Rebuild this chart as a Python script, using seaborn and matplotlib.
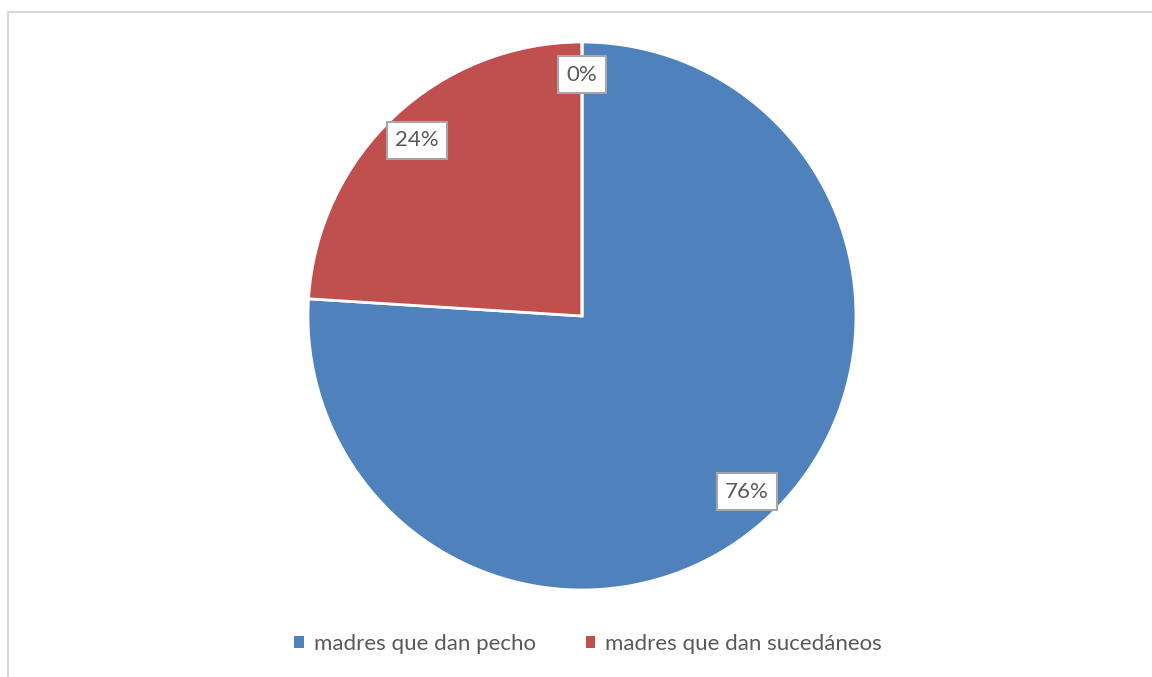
import matplotlib
matplotlib.use('Agg')
import matplotlib.pyplot as plt
import seaborn as sns
from matplotlib.lines import Line2D
from matplotlib.patches import Patch

#---------------------------------------------------------
categories=['madres que dan pecho', 'madres que dan sucedáneos', '']
values=[76, 24, 0]
legend_cats=['madres que dan pecho', 'madres que dan sucedáneos']
cmap=['#4F81BD', '#C0504D', '#9BBB59']
txt_col='#595959'

#--------------------------------------------------------
sns.set_theme(style='white')
plt.rcParams['font.family']=['Lato', 'DejaVu Sans']

fig=plt.figure(figsize=(11.52, 6.77), dpi=100)
ax=fig.add_axes([582/1152-274/1152, 1-590/677, 548/1152, 548/677])

wedges, texts, autotexts=ax.pie(values, colors=cmap, startangle=90, counterclock=False,
	autopct='%1.0f%%', pctdistance=0.88, radius=1,
	wedgeprops=dict(edgecolor='white', linewidth=2))
ax.set_xlim(-1, 1)
ax.set_ylim(-1, 1)
ax.set_aspect('equal')

for t in autotexts:
	t.set_fontsize(16)
	t.set_color(txt_col)
	t.set_bbox(dict(boxstyle='square,pad=0.38', facecolor='white', edgecolor='#a6a6a6', linewidth=1.5))

#legend
handles=[Patch(facecolor=cmap[i], edgecolor='none') for i in range(len(legend_cats))]
fig.legend(handles, legend_cats, loc='center', bbox_to_anchor=(588/1152, 1-644/677), ncol=2,
	frameon=False, fontsize=16, handlelength=0.42, handleheight=0.42, handletextpad=0.45,
	columnspacing=2.25, labelcolor=txt_col)

#chart frame
frame_col='#d9d9d9'
fig.add_artist(Line2D([7.5/1152, 1], [1-11.5/677, 1-11.5/677], color=frame_col, lw=1.5, transform=fig.transFigure))
fig.add_artist(Line2D([7.5/1152, 7.5/1152], [0, 1-11.5/677], color=frame_col, lw=1.5, transform=fig.transFigure))

plt.savefig('out.png', dpi=100)
plt.close()
